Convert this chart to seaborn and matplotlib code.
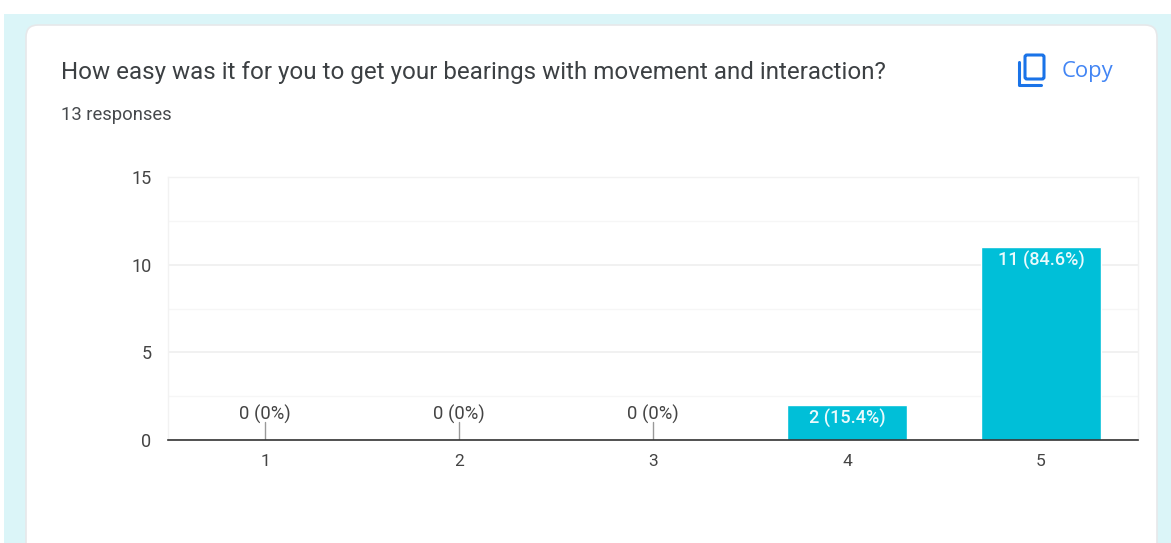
import matplotlib
matplotlib.use('Agg')
import matplotlib.pyplot as plt
import seaborn as sns
import pandas as pd
from matplotlib.patches import FancyBboxPatch, Rectangle

# Values
categories = ['1', '2', '3', '4', '5']
counts = [0, 0, 0, 2, 11]
bar_labels = ['0 (0%)', '0 (0%)', '0 (0%)', '2 (15.4%)', '11 (84.6%)']
y_ticks = [0, 5, 10, 15]
y_minor_ticks = [2.5, 7.5, 12.5]
question = 'How easy was it for you to get your bearings with movement and interaction?'
responses = '13 responses'

W, H = 1171, 543

sns.set_theme(style='white')
plt.rcParams['font.family'] = ['Roboto', 'DejaVu Sans']

df = pd.DataFrame({'choice': categories, 'count': counts})

fig = plt.figure(figsize=(W / 100, H / 100), dpi=100, facecolor='white')

# page background and card, in pixel coords
bg = fig.add_axes([0, 0, 1, 1], zorder=0)
bg.set_xlim(0, W)
bg.set_ylim(H, 0)
bg.axis('off')
bg.add_patch(Rectangle((4, 14), W, H, facecolor='#dbf5f8', edgecolor='none'))
bg.add_patch(FancyBboxPatch((26, 25), 1131, 560, boxstyle='round,pad=0,rounding_size=12',
                            facecolor='white', edgecolor='#e6e8ea', linewidth=1.2))

bg.text(61, 73, question, fontsize=17.4, color='#3c4043', va='center', ha='left')
bg.text(61, 115, responses, fontsize=13.2, color='#46494d', va='center', ha='left')
bg.text(1062, 71, 'Copy', fontsize=15.8, color='#4285f4', va='center', ha='left',
        weight='medium', family=['Open Sans', 'DejaVu Sans'])

# copy icon
blue = '#1a73e8'
bg.add_patch(FancyBboxPatch((1025, 55), 19, 24, boxstyle='round,pad=0,rounding_size=2',
                            facecolor='none', edgecolor=blue, linewidth=2.2))
bg.plot([1019, 1019, 1041], [62, 85, 85], color=blue, linewidth=2.2, solid_capstyle='round',
        solid_joinstyle='round')

# chart
ax = fig.add_axes([168 / W, 1 - 440 / H, 970 / W, 263 / H], zorder=1)
ax.patch.set_alpha(0)
sns.barplot(data=df, x='choice', y='count', color='#00bfd8', saturation=1, width=0.62, ax=ax, zorder=3)
ax.set_xlim(-0.5, 4.5)
ax.set_ylim(0, 15)
ax.set_xlabel('')
ax.set_ylabel('')
ax.set_yticks(y_ticks)
ax.set_yticks(y_minor_ticks, minor=True)
ax.grid(True, axis='y', which='major', color='#efefef', linewidth=1.2, zorder=0)
ax.grid(True, axis='y', which='minor', color='#f6f6f6', linewidth=1.0, zorder=0)
ax.tick_params(axis='both', which='both', length=0)
ax.tick_params(axis='x', labelsize=12.5, labelcolor='#444444', pad=10)
ax.tick_params(axis='y', labelsize=13, labelcolor='#444444', pad=12)
for side in ['top', 'left', 'right']:
    ax.spines[side].set_color('#f2f2f2')
    ax.spines[side].set_linewidth(1)
ax.spines['bottom'].set_color('#333333')
ax.spines['bottom'].set_linewidth(1.2)
ax.spines['bottom'].set_zorder(5)

# labels
for i, (n, label) in enumerate(zip(counts, bar_labels)):
    if n == 0:
        ax.plot([i, i], [0, 1.03], color='#999999', linewidth=1, zorder=4)
        ax.annotate(label, (i, 1.03), xytext=(0, 5.5), textcoords='offset points', ha='center',
                    va='center', fontsize=13.3, color='#444444')
    else:
        ax.annotate(label, (i, n), xytext=(0, -9.5), textcoords='offset points', ha='center',
                    va='center', fontsize=13, weight='medium', color='#eafafc', zorder=6)

fig.savefig('out.png', dpi=100, facecolor='white')
